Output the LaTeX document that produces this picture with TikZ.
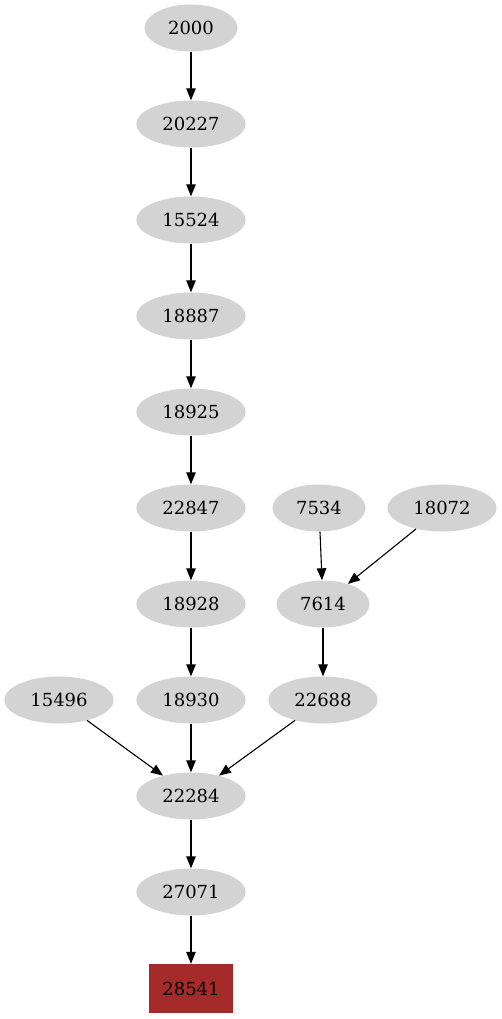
\documentclass[tikz,border=0pt]{standalone}
\usepackage{fontspec}
\setmainfont{DejaVu Serif}
\usetikzlibrary{arrows.meta,shapes.geometric}
\definecolor{ndgray}{RGB}{211,211,211}
\definecolor{ndbrown}{RGB}{165,42,42}
\tikzset{
  nd/.style={ellipse, fill=ndgray, draw=none, inner xsep=10pt, inner ysep=0pt,
    minimum height=47pt, font=\fontsize{18}{20}\selectfont},
  sink/.style={rectangle, fill=ndbrown, draw=none, minimum width=84pt,
    minimum height=49pt, font=\fontsize{18}{20}\selectfont},
  edge/.style={line width=1.1pt, -{Triangle[length=12pt,width=9.5pt]}}
}
\begin{document}
\begin{tikzpicture}[x=1pt,y=1pt]
\useasboundingbox (0,0) rectangle (502,-1019);
\node[nd] (n2000) at (191,-28) {2000};
\node[nd] (n20227) at (191,-124) {20227};
\node[nd] (n15524) at (191,-220) {15524};
\node[nd] (n18887) at (191,-316) {18887};
\node[nd] (n18925) at (191,-412) {18925};
\node[nd] (n22847) at (191,-508) {22847};
\node[nd] (n7534) at (319,-508) {7534};
\node[nd] (n18072) at (442,-508) {18072};
\node[nd] (n18928) at (191,-604) {18928};
\node[nd] (n7614) at (323,-604) {7614};
\node[nd] (n15496) at (59,-700) {15496};
\node[nd] (n18930) at (191,-700) {18930};
\node[nd] (n22688) at (323,-700) {22688};
\node[nd] (n22284) at (191,-796) {22284};
\node[nd] (n27071) at (191,-892) {27071};
\node[sink] (n28541) at (191,-988.5) {28541};
\draw[edge] (n2000) -- (n20227);
\draw[edge] (n20227) -- (n15524);
\draw[edge] (n15524) -- (n18887);
\draw[edge] (n18887) -- (n18925);
\draw[edge] (n18925) -- (n22847);
\draw[edge] (n22847) -- (n18928);
\draw[edge] (n18928) -- (n18930);
\draw[edge] (n7534) -- (n7614);
\draw[edge] (n18072) -- (n7614);
\draw[edge] (n7614) -- (n22688);
\draw[edge] (n15496) -- (n22284);
\draw[edge] (n18930) -- (n22284);
\draw[edge] (n22688) -- (n22284);
\draw[edge] (n22284) -- (n27071);
\draw[edge] (n27071) -- (n28541);
\end{tikzpicture}
\end{document}
